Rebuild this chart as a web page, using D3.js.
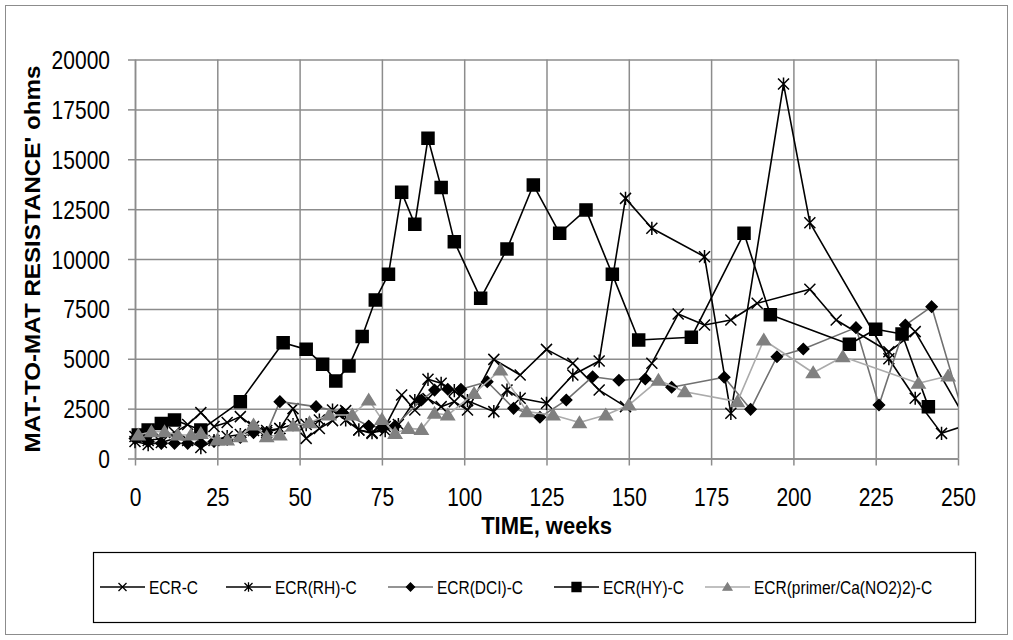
<!DOCTYPE html>
<html><head><meta charset="utf-8">
<script src="https://cdn.jsdelivr.net/npm/d3@7/dist/d3.min.js"></script>
<style>body{margin:0;background:#fff}svg{display:block}</style>
</head><body>
<svg id="chart" width="1013" height="640"></svg>
<script>
// ---------- data ----------
const xTickValues = [0,25,50,75,100,125,150,175,200,225,250];
const yTickValues = [0,2500,5000,7500,10000,12500,15000,17500,20000];
const xTitle = "TIME, weeks";
const yTitle = "MAT-TO-MAT RESISTANCE' ohms";
const seriesNames = ["ECR-C","ECR(RH)-C","ECR(DCI)-C","ECR(HY)-C","ECR(primer/Ca(NO2)2)-C"];

const ecrWeeks = [0,4,8,12,16,20,24,28,32,36,40,44,48,52,56,60,64,68,72,76,81,85,89,93,97,101,109,117,125,133,141,149,157,165,173,181,189,205,213,229,237,253];
const ecrVals  = [1100,900,1000,1300,1700,2300,1600,1800,2100,1600,1400,1500,2500,1010,1500,1900,2400,1430,1260,1600,3180,2430,3000,2600,2850,2430,4970,4185,5470,4770,3430,2600,4770,7240,6690,6940,7780,8480,6940,5350,6360,1800];

const rhWeeks = [0,4,8,12,16,20,24,28,32,36,40,44,48,52,56,60,64,68,72,76,80,85,89,93,97,101,109,113,117,125,133,141,149,157,173,181,197,205,229,237,245,253];
const rhVals  = [850,700,800,1000,900,550,900,1100,1200,1400,1300,1500,1700,1700,1930,2430,1930,1430,1300,1400,1700,2900,3970,3770,3400,2900,2350,3430,3020,2765,4185,4887,13040,11540,10115,2265,18770,11820,5000,3020,1260,1700];

const dciWeeks = [0,4,8,12,16,20,24,28,32,36,40,44,55,63,71,75,79,87,91,95,99,107,115,123,131,139,147,155,163,179,187,195,203,219,226,234,242,252];
const dciVals  = [1000,850,760,760,760,760,850,950,1050,1300,1300,2850,2600,2300,1630,1560,1630,2930,3430,3470,3470,3850,2515,2065,2930,4100,3920,3985,3570,4070,2465,5100,5490,6560,2680,6690,7610,2000];

const hyWeeks = [1,4,8,12,20,32,45,52,57,61,65,69,73,77,81,85,89,93,97,105,113,121,129,137,145,153,169,185,193,217,225,233,241];
const hyVals  = [1180,1430,1760,1930,1430,2850,5800,5470,4720,3890,4640,6120,7950,9230,13340,11740,16050,13590,10870,8030,10500,13710,11290,12460,9230,5940,6075,11290,7200,5725,6480,6240,2600];

const primerWeeks = [1,5,9,13,17,20,25,28,32,36,40,44,48,53,59,66,71,75,79,83,87,91,95,103,111,119,127,135,143,150,159,167,183,191,206,215,238,247];
const primerVals  = [1180,1340,1340,1180,1180,1260,930,930,1090,1680,1090,1180,1630,1800,2180,2180,2930,1960,1260,1510,1460,2265,2180,3265,4435,2350,2180,1800,2180,2680,3930,3350,2850,5940,4300,5100,3770,4135];

// ---------- layout ----------
const svg = d3.select("#chart");
const L = 135, R = 958, T = 59.5, B = 458.5;
const x = d3.scaleLinear().domain([0,250]).range([L,R]);
const y = d3.scaleLinear().domain([0,20000]).range([B,T]);
const FONT = "'Liberation Sans', Arial, sans-serif";
const GRID = "#8c8c8c";

svg.append("rect").attr("x",5.5).attr("y",5.5).attr("width",1002).attr("height",629)
  .attr("fill","#fff").attr("stroke","#8c8c8c").attr("stroke-width",1);

// gridlines
svg.append("g").attr("transform",`translate(0,${B})`)
  .call(d3.axisBottom(x).tickValues(xTickValues).tickSize(-(B-T)).tickFormat(""))
  .call(g=>{g.select(".domain").remove();g.selectAll("line").attr("stroke",GRID).attr("stroke-width",1.5);});
svg.append("g").attr("transform",`translate(${L},0)`)
  .call(d3.axisLeft(y).tickValues(yTickValues).tickSize(-(R-L)).tickFormat(""))
  .call(g=>{g.select(".domain").remove();g.selectAll("line").attr("stroke",GRID).attr("stroke-width",1.5);});

// axes with outward ticks and labels
const xAxis = svg.append("g").attr("transform",`translate(0,${B})`)
  .call(d3.axisBottom(x).tickValues(xTickValues).tickSize(7).tickSizeOuter(0).tickFormat(d3.format("d")));
xAxis.select(".domain").attr("stroke",GRID).attr("stroke-width",1.5);
xAxis.selectAll("line").attr("stroke",GRID).attr("stroke-width",1.5);
xAxis.selectAll("text").attr("y",0).attr("dy",0).attr("fill","#000")
  .attr("font-family",FONT).attr("font-size",21)
  .attr("transform","translate(0,47.5) scale(1,1.2)");

const yAxis = svg.append("g").attr("transform",`translate(${L},0)`)
  .call(d3.axisLeft(y).tickValues(yTickValues).tickSize(7).tickSizeOuter(0).tickFormat(d3.format("d")));
yAxis.select(".domain").attr("stroke",GRID).attr("stroke-width",1.5);
yAxis.selectAll("line").attr("stroke",GRID).attr("stroke-width",1.5);
yAxis.selectAll("text").attr("x",0).attr("dy",0).attr("fill","#000")
  .attr("font-family",FONT).attr("font-size",21)
  .attr("transform","translate(-25,9) scale(1,1.2)");

// titles
svg.append("text").text(xTitle).attr("font-family",FONT).attr("font-weight","bold")
  .attr("font-size",22).attr("text-anchor","middle")
  .attr("transform",`translate(${(L+R)/2},534) scale(1,1.1)`);
svg.append("text").text(yTitle).attr("font-family",FONT).attr("font-weight","bold")
  .attr("font-size",22).attr("text-anchor","middle")
  .attr("transform",`translate(40,${(T+B)/2}) scale(1,1.1) rotate(-90)`);

// ---------- markers ----------
function markerPath(type, s){
  switch(type){
    case "x": return `M${-s},${-s}L${s},${s}M${-s},${s}L${s},${-s}`;
    case "star": return `M${-s},${-s}L${s},${s}M${-s},${s}L${s},${-s}M0,${-s*1.2}L0,${s*1.2}`;
    case "diamond": return `M0,${-s}L${s},0L0,${s}L${-s},0Z`;
    case "square": return `M${-s},${-s}H${s}V${s}H${-s}Z`;
    case "triangle": return `M0,${-s}L${s*1.1},${s*0.8}L${-s*1.1},${s*0.8}Z`;
  }
}
const series = [
  {name:seriesNames[0], w:ecrWeeks, v:ecrVals, line:"#000", marker:"x", mfill:"none", mstroke:"#000", ms:5.5},
  {name:seriesNames[1], w:rhWeeks, v:rhVals, line:"#000", marker:"star", mfill:"none", mstroke:"#000", ms:5.5},
  {name:seriesNames[2], w:dciWeeks, v:dciVals, line:"#707070", marker:"diamond", mfill:"#000", mstroke:"#000", ms:5.5},
  {name:seriesNames[3], w:hyWeeks, v:hyVals, line:"#000", marker:"square", mfill:"#000", mstroke:"#000", ms:6},
  {name:seriesNames[4], w:primerWeeks, v:primerVals, line:"#ababab", marker:"triangle", mfill:"#808080", mstroke:"#808080", ms:6},
];

svg.append("clipPath").attr("id","clip").append("rect")
  .attr("x",0).attr("y",0).attr("width",R).attr("height",B+20);
const plot = svg.append("g").attr("clip-path","url(#clip)");
const lineGen = d3.line().x(d=>x(d[0])).y(d=>y(d[1]));

series.forEach(s=>{
  const pts = s.w.map((w,i)=>[w,s.v[i]]);
  const g = plot.append("g");
  g.append("path").datum(pts).attr("d",lineGen).attr("fill","none")
    .attr("stroke",s.line).attr("stroke-width",1.6).attr("stroke-linejoin","round");
  g.selectAll("path.m").data(pts.filter(p=>p[0]<=250)).join("path").attr("class","m")
    .attr("transform",p=>`translate(${x(p[0])},${y(p[1])})`)
    .attr("d",markerPath(s.marker,s.ms))
    .attr("fill",s.mfill).attr("stroke",s.mstroke).attr("stroke-width",1.5);
});

// ---------- legend ----------
const lg = svg.append("g");
lg.append("rect").attr("x",93.5).attr("y",552.5).attr("width",882).attr("height",70)
  .attr("fill","#fff").attr("stroke","#000").attr("stroke-width",1.2);
const legendX = [100,226,388,554,705];
const ly = 587;
series.forEach((s,i)=>{
  const lx = legendX[i];
  lg.append("line").attr("x1",lx).attr("x2",lx+45).attr("y1",ly).attr("y2",ly)
    .attr("stroke",s.line).attr("stroke-width",1.6);
  lg.append("path").attr("transform",`translate(${lx+22.5},${ly})`)
    .attr("d",markerPath(s.marker,s.marker==="square"?4.5:4))
    .attr("fill",s.mfill).attr("stroke",s.mstroke).attr("stroke-width",1.3);
  lg.append("text").text(s.name).attr("font-family",FONT).attr("font-size",15.5)
    .attr("transform",`translate(${lx+49},${ly+6.5}) scale(1,1.2)`);
});
</script>
</body></html>
